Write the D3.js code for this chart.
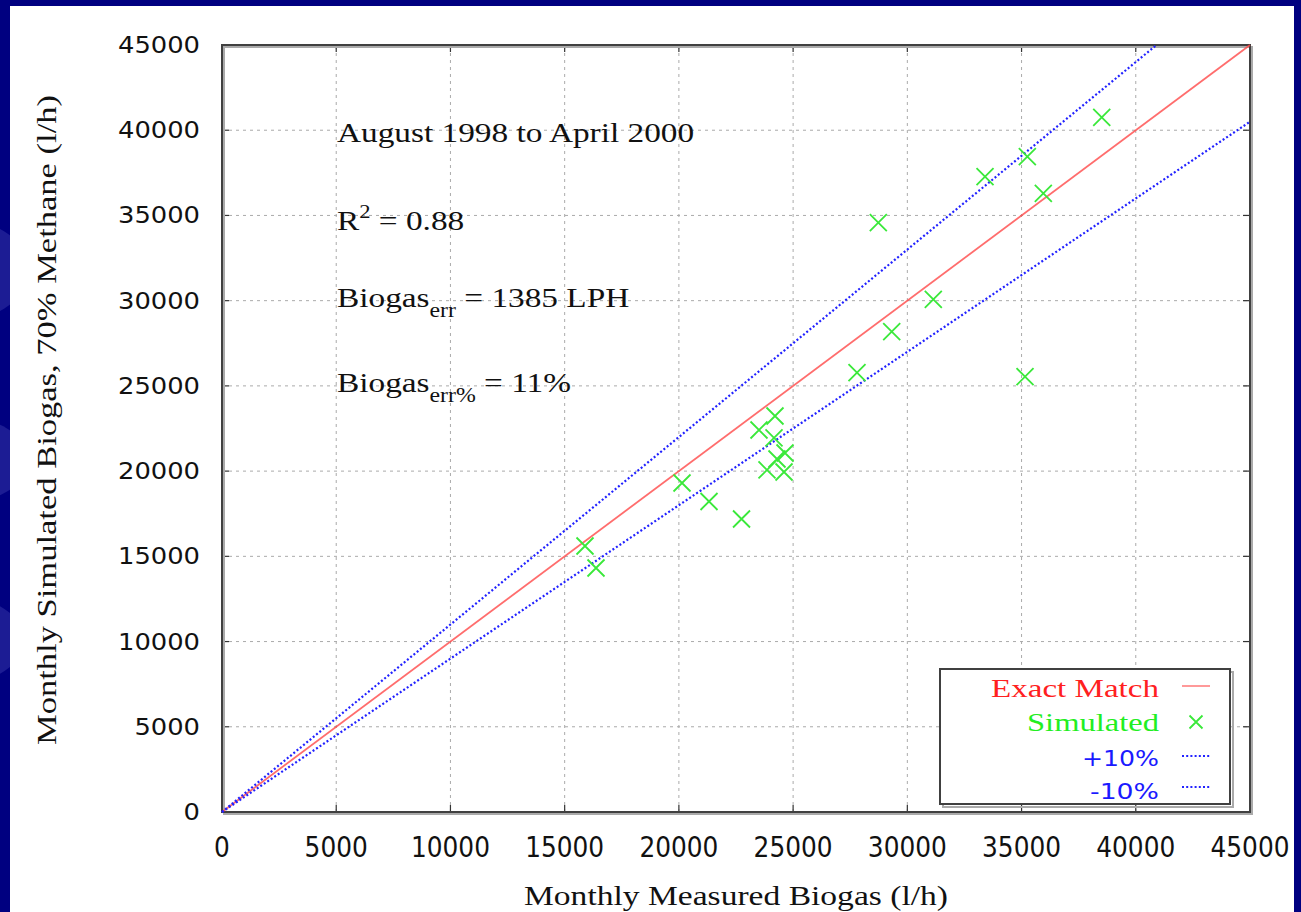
<!DOCTYPE html>
<html><head><meta charset="utf-8">
<script src="https://cdn.jsdelivr.net/npm/d3@7"></script>
<style>html,body{margin:0;padding:0;background:#000080;overflow:hidden}</style>
</head><body>
<script>
// ---- data ----
const measured  = [15890,16372,20137,21319,22742,23507,24207,24164,24646,24295,23857,24602,27797,29316,28730,31137,33401,35253,35953,35152,38510];
const simulated = [15606,14316,19303,18217,17191,22412,23234,21944,21063,20711,20066,19948,25775,28180,34575,30081,37274,38448,36300,25540,40759];
const xTicks = [0,5000,10000,15000,20000,25000,30000,35000,40000,45000];
const yTicks = [0,5000,10000,15000,20000,25000,30000,35000,40000,45000];
const refNames   = ["Exact Match", "+10%", "-10%"];
const refFactors = [1, 1.1, 0.9];
const legendNames = ["Exact Match", "Simulated", "+10%", "-10%"];
const xTitle = "Monthly Measured Biogas (l/h)";
const yTitle = "Monthly Simulated Biogas, 70% Methane (l/h)";

const W = 1301, H = 912;
const svg = d3.select("body").append("svg").attr("width", W).attr("height", H);

// background
svg.append("rect").attr("width", W).attr("height", H).attr("fill", "#000080");
const sw = svg.append("g").attr("fill", "#1c1c94");
[[ -60, 270, 90, 55],[ -50, 460, 80, 45],[ -70, 640, 95, 50]].forEach(e=>{
  sw.append("ellipse").attr("cx", e[0]).attr("cy", e[1]).attr("rx", e[2]).attr("ry", e[3]);
});
svg.append("rect").attr("x", 10).attr("y", 6).attr("width", 1284).attr("height", H - 6).attr("fill", "#ffffff");

const x0 = 222, x1 = 1250, y0 = 812, y1 = 45;
const x = d3.scaleLinear().domain([0, 45000]).range([x0, x1]);
const y = d3.scaleLinear().domain([0, 45000]).range([y0, y1]);

// grid
const grid = svg.append("g").attr("stroke", "#aaaaaa").attr("stroke-width", 1).attr("stroke-dasharray", "3,4");
xTicks.slice(1, -1).forEach(t => grid.append("line").attr("x1", x(t)).attr("x2", x(t)).attr("y1", y0).attr("y2", y1));
yTicks.slice(1, -1).forEach(t => grid.append("line").attr("x1", x0).attr("x2", x1).attr("y1", y(t)).attr("y2", y(t)));

// ticks (all 4 sides, inward)
const tk = svg.append("g").attr("stroke", "#333").attr("stroke-width", 1.2);
xTicks.forEach(t => {
  tk.append("line").attr("x1", x(t)).attr("x2", x(t)).attr("y1", y0).attr("y2", y0 - 7);
  tk.append("line").attr("x1", x(t)).attr("x2", x(t)).attr("y1", y1).attr("y2", y1 + 7);
});
yTicks.forEach(t => {
  tk.append("line").attr("x1", x0).attr("x2", x0 + 7).attr("y1", y(t)).attr("y2", y(t));
  tk.append("line").attr("x1", x1).attr("x2", x1 - 7).attr("y1", y(t)).attr("y2", y(t));
});

// frame with shadow
svg.append("rect").attr("x", x0 + 2).attr("y", y1 + 2).attr("width", x1 - x0).attr("height", y0 - y1)
  .attr("fill", "none").attr("stroke", "#aaaaaa").attr("stroke-width", 2);
svg.append("rect").attr("x", x0).attr("y", y1).attr("width", x1 - x0).attr("height", y0 - y1)
  .attr("fill", "none").attr("stroke", "#404040").attr("stroke-width", 2);

// tick labels
const sans = "'DejaVu Sans', Verdana, sans-serif";
const serif = "'Liberation Serif', 'Times New Roman', serif";
yTicks.forEach(t => {
  const s = d3.format("d")(t);
  svg.append("text").attr("x", 200).attr("y", y(t) + 8).attr("text-anchor", "end")
    .attr("font-family", sans).attr("font-size", 23).attr("fill", "#111")
    .attr("textLength", 16.4 * s.length).attr("lengthAdjust", "spacingAndGlyphs").text(s);
});
xTicks.forEach(t => {
  const s = d3.format("d")(t);
  svg.append("text").attr("x", x(t)).attr("y", 857).attr("text-anchor", "middle")
    .attr("font-family", sans).attr("font-size", 28).attr("fill", "#111")
    .attr("textLength", 15.8 * s.length).attr("lengthAdjust", "spacingAndGlyphs").text(s);
});

// axis titles
svg.append("text").attr("x", 736).attr("y", 905).attr("text-anchor", "middle")
  .attr("font-family", serif).attr("font-size", 28).attr("fill", "#111")
  .attr("textLength", 424).attr("lengthAdjust", "spacingAndGlyphs").text(xTitle);
svg.append("text").attr("transform", "translate(56,420) rotate(-90)").attr("text-anchor", "middle")
  .attr("font-family", serif).attr("font-size", 27).attr("fill", "#111")
  .attr("textLength", 650).attr("lengthAdjust", "spacingAndGlyphs").text(yTitle);

// reference lines
const refColors = ["#ff4848", "#2222ff", "#2222ff"];
refFactors.forEach((f, i) => {
  const xe = Math.min(45000, 45000 / f);
  const p = svg.append("line").attr("x1", x(0)).attr("y1", y(0)).attr("x2", x(xe)).attr("y2", y(f * xe))
    .attr("stroke", refColors[i]);
  if (i === 0) p.attr("stroke-width", 1.8).attr("stroke-opacity", 0.8);
  else p.attr("stroke-width", 2.2).attr("stroke-dasharray", "2,2.2");
});

// points
const cross = (g, cx, cy, r) => g.append("path")
  .attr("d", `M${cx - r},${cy - r}L${cx + r},${cy + r}M${cx - r},${cy + r}L${cx + r},${cy - r}`)
  .attr("stroke", "#3ae83a").attr("stroke-width", 1.8).attr("fill", "none");
const pts = svg.append("g");
measured.forEach((m, i) => cross(pts, x(m), y(simulated[i]), 8.5));

// annotations
const ann = svg.append("g").attr("transform", "translate(337,0) scale(1.19,1)")
  .attr("font-family", serif).attr("font-size", 28).attr("fill", "#111");
ann.append("text").attr("x", 0).attr("y", 142).text("August 1998 to April 2000");
const r2 = ann.append("text").attr("x", 0).attr("y", 230);
r2.append("tspan").text("R");
r2.append("tspan").attr("dy", -12).attr("font-size", 19).text("2");
r2.append("tspan").attr("dy", 12).text(" = 0.88");
const b1 = ann.append("text").attr("x", 0).attr("y", 307);
b1.append("tspan").text("Biogas");
b1.append("tspan").attr("dy", 10).attr("font-size", 20).text("err");
b1.append("tspan").attr("dy", -10).text(" = 1385 LPH");
const b2 = ann.append("text").attr("x", 0).attr("y", 392);
b2.append("tspan").text("Biogas");
b2.append("tspan").attr("dy", 10).attr("font-size", 20).text("err%");
b2.append("tspan").attr("dy", -10).text(" = 11%");

// legend
const lg = svg.append("g");
lg.append("rect").attr("x", 943).attr("y", 672).attr("width", 290).attr("height", 135)
  .attr("fill", "none").attr("stroke", "#aaaaaa").attr("stroke-width", 2);
lg.append("rect").attr("x", 940).attr("y", 669).attr("width", 290).attr("height", 135)
  .attr("fill", "#ffffff").attr("stroke", "#404040").attr("stroke-width", 2);
const lgColors = ["#ff2020", "#22ee22", "#1a1aff", "#1a1aff"];
const lgY = [697, 731, 766, 799];
const lgW = [168, 132, 77, 69];
legendNames.forEach((n, i) => {
  const isSans = i >= 2;
  lg.append("text").attr("x", 1159).attr("y", lgY[i]).attr("text-anchor", "end")
    .attr("font-family", isSans ? sans : serif).attr("font-size", isSans ? 21 : 26)
    .attr("fill", lgColors[i]).attr("textLength", lgW[i]).attr("lengthAdjust", "spacingAndGlyphs").text(n);
});
lg.append("line").attr("x1", 1182).attr("x2", 1210).attr("y1", 686).attr("y2", 686)
  .attr("stroke", "#ff4848").attr("stroke-width", 1.4).attr("stroke-opacity", 0.8);
cross(lg, 1196, 722, 6.5);
[756, 787].forEach(yy => lg.append("line").attr("x1", 1182).attr("x2", 1210).attr("y1", yy).attr("y2", yy)
  .attr("stroke", "#2222ff").attr("stroke-width", 2).attr("stroke-dasharray", "2,2.2"));
</script>
</body></html>
